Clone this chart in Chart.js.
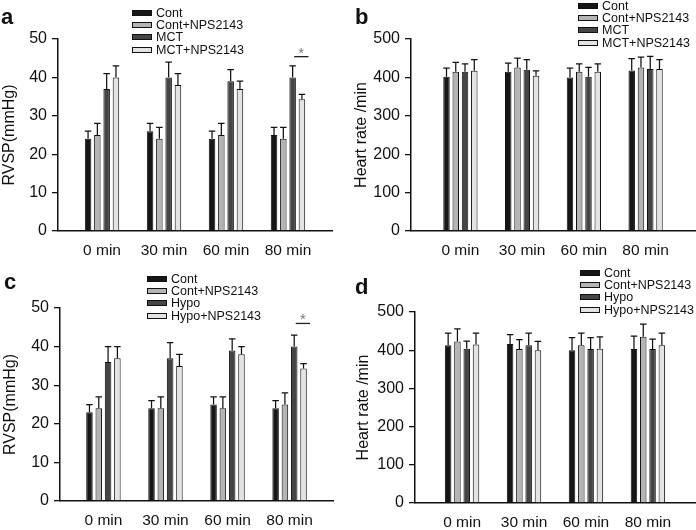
<!DOCTYPE html>
<html>
<head>
<meta charset="utf-8">
<script src="https://cdn.jsdelivr.net/npm/chart.js@4.4.1/dist/chart.umd.min.js"></script>
<style>
  body { margin: 0; background: #fff; font-family: "Liberation Sans", Arial, sans-serif; }
  #wrap { position: relative; width: 696px; height: 530px; }
  .panel { position: absolute; width: 348px; height: 265px; }
  .letter { position: absolute; font-weight: bold; font-size: 22px; line-height: 22px; color: #111; }
  .legend { position: absolute; font-size: 12.5px; color: #111; }
  .legend .row { display: flex; align-items: center; height: 12.2px; white-space: nowrap; }
  .legend .box { width: 18px; height: 4px; border: 1px solid #111; margin-right: 4px; }
</style>
</head>
<body>
<div id="wrap">
  <div class="panel" style="left:0;top:0"><canvas id="chartA" width="348" height="265"></canvas></div>
  <div class="panel" style="left:348px;top:0"><canvas id="chartB" width="348" height="265"></canvas></div>
  <div class="panel" style="left:0;top:265px"><canvas id="chartC" width="348" height="265"></canvas></div>
  <div class="panel" style="left:348px;top:265px"><canvas id="chartD" width="348" height="265"></canvas></div>
  <div class="letter" style="left:1px;top:6px">a</div>
  <div class="letter" style="left:355px;top:6px">b</div>
  <div class="letter" style="left:4px;top:271px">c</div>
  <div class="letter" style="left:355px;top:276px">d</div>
  <div class="legend" id="legA" style="left:132px;top:7px"></div>
  <div class="legend" id="legB" style="left:578px;top:0px"></div>
  <div class="legend" id="legC" style="left:147px;top:273px"></div>
  <div class="legend" id="legD" style="left:580px;top:267px"></div>
</div>
<script>
// data
const timeLabels = ['0 min', '30 min', '60 min', '80 min'];
const mctNames = ['Cont', 'Cont+NPS2143', 'MCT', 'MCT+NPS2143'];
const hypoNames = ['Cont', 'Cont+NPS2143', 'Hypo', 'Hypo+NPS2143'];
const barColors = ['#161616', '#b4b4b4', '#454545', '#e3e3e3'];

// a: RVSP, MCT groups (one row per series)
const rvspMct = [[24, 26, 24, 25], [25, 24, 25, 24], [37, 40, 39, 40], [40, 38, 37, 34.3]];
const rvspMctErr = [[2, 2, 2, 2], [3, 3, 3, 3], [4, 4, 3, 3], [3, 3, 2, 1.3]];
// b: heart rate, MCT groups
const hrMct = [[402, 415, 400, 418], [415, 426, 415, 426], [415, 420, 402, 422], [417, 404, 415, 422]];
const hrMctErr = [[22, 22, 24, 31], [24, 24, 20, 27], [20, 26, 24, 33], [29, 13, 20, 24]];
// c: RVSP, hypoxia groups
const rvspHypo = [[23, 24, 25, 24], [24, 24, 24, 25], [36, 37, 39, 40], [37, 35, 38, 34.3]];
const rvspHypoErr = [[2, 2, 2, 2], [3, 3, 3, 3], [4, 4, 3, 3], [3, 3, 2, 1.3]];
// d: heart rate, hypoxia groups
const hrHypo = [[413, 416, 400, 403], [423, 403, 413, 435], [404, 413, 403, 403], [415, 400, 404, 413]];
const hrHypoErr = [[32, 25, 33, 34], [33, 25, 32, 33], [20, 32, 30, 26], [30, 23, 31, 32]];

// significance bar between series 3 and 4 at 80 min
const starGroup = 3;
const starLevelA = 45.4;
const starLevelC = 46;

const errorBars = {
    id: 'errorBars',
    afterDatasetsDraw(chart) {
        const ctx = chart.ctx;
        const y = chart.scales.y;
        ctx.save();
        ctx.strokeStyle = '#111';
        ctx.lineWidth = 1.25;
        chart.data.datasets.forEach((ds, i) => {
            chart.getDatasetMeta(i).data.forEach((bar, j) => {
                const top = y.getPixelForValue(ds.data[j].y + ds.sem[j]);
                const half = bar.width / 2;
                ctx.beginPath();
                ctx.moveTo(bar.x, bar.y);
                ctx.lineTo(bar.x, top);
                ctx.moveTo(bar.x - half, top);
                ctx.lineTo(bar.x + half, top);
                ctx.stroke();
            });
        });
        ctx.restore();
    }
};

const sigMark = {
    id: 'sigMark',
    afterDatasetsDraw(chart, args, opts) {
        if (opts.level == null) return;
        const ctx = chart.ctx;
        const b2 = chart.getDatasetMeta(2).data[starGroup];
        const b3 = chart.getDatasetMeta(3).data[starGroup];
        const ly = chart.scales.y.getPixelForValue(opts.level);
        const x1 = b2.x + 1.5, x2 = b3.x + b3.width;
        ctx.save();
        ctx.strokeStyle = '#222';
        ctx.lineWidth = 1.3;
        ctx.beginPath();
        ctx.moveTo(x1, ly);
        ctx.lineTo(x2, ly);
        ctx.stroke();
        ctx.fillStyle = '#777';
        ctx.font = '15px "Liberation Sans", Arial, sans-serif';
        ctx.textAlign = 'center';
        ctx.textBaseline = 'alphabetic';
        ctx.fillText('*', (x1 + x2) / 2, ly + 1);
        ctx.restore();
    }
};

function buildLegend(id, names) {
    const el = document.getElementById(id);
    names.forEach((n, i) => {
        const row = document.createElement('div');
        row.className = 'row';
        const box = document.createElement('span');
        box.className = 'box';
        box.style.background = barColors[i];
        row.appendChild(box);
        row.appendChild(document.createTextNode(n));
        el.appendChild(row);
    });
}

function makePanel(id, names, means, sems, yMax, yStep, yTitle, box, sigLevel) {
    const datasets = names.map((n, i) => ({
        label: n,
        data: means[i].map((v, j) => ({ x: j, y: v })),
        sem: sems[i],
        backgroundColor: barColors[i],
        borderColor: '#111',
        borderWidth: 1,
        categoryPercentage: 0.6,
        barPercentage: 0.7
    }));

    new Chart(document.getElementById(id), {
        type: 'bar',
        data: { datasets: datasets },
        options: {
            responsive: false,
            animation: false,
            layout: { padding: { top: box.top, right: 348 - box.right, left: 0, bottom: 0 } },
            plugins: {
                legend: { display: false },
                tooltip: { enabled: false },
                sigMark: { level: sigLevel }
            },
            scales: {
                x: {
                    type: 'linear',
                    offset: false,
                    min: -box.pad,
                    max: 3 + box.pad,
                    afterBuildTicks: s => { s.ticks = timeLabels.map((_, i) => ({ value: i })); },
                    afterFit: s => { s.height = 265 - box.bottom; },
                    grid: { display: false, offset: false },
                    border: { color: '#111', width: 1.5 },
                    ticks: {
                        callback: v => timeLabels[v],
                        font: { family: '"Liberation Sans", Arial, sans-serif', size: 15.5 },
                        color: '#111',
                        padding: 2,
                        maxRotation: 0,
                        autoSkip: false
                    }
                },
                y: {
                    min: 0,
                    max: yMax,
                    afterFit: s => { s.width = box.left; },
                    ticks: {
                        stepSize: yStep,
                        font: { family: '"Liberation Sans", Arial, sans-serif', size: 16 },
                        color: '#111',
                        padding: 5
                    },
                    grid: { display: true, drawOnChartArea: false, tickLength: 6, color: '#111', lineWidth: 1.3 },
                    border: { color: '#111', width: 1.5 },
                    title: {
                        display: true,
                        text: yTitle,
                        font: { family: '"Liberation Sans", Arial, sans-serif', size: 16 },
                        color: '#111',
                        padding: { top: box.tp, bottom: 0 }
                    }
                }
            }
        },
        plugins: [errorBars, sigMark]
    });
}

makePanel('chartA', mctNames, rvspMct, rvspMctErr, 50, 10, 'RVSP(mmHg)',
    { left: 58, right: 332, top: 39, bottom: 231, pad: 0.71, tp: 0 }, starLevelA);
makePanel('chartB', mctNames, hrMct, hrMctErr, 500, 100, 'Heart rate /min',
    { left: 63, right: 347, top: 39, bottom: 231, pad: 0.8, tp: 4 }, null);
makePanel('chartC', hypoNames, rvspHypo, rvspHypoErr, 50, 10, 'RVSP(mmHg)',
    { left: 60, right: 333, top: 43, bottom: 236, pad: 0.7, tp: 1 }, starLevelC);
makePanel('chartD', hypoNames, hrHypo, hrHypoErr, 500, 100, 'Heart rate /min',
    { left: 67, right: 347, top: 47, bottom: 238, pad: 0.76, tp: 6 }, null);

buildLegend('legA', mctNames);
buildLegend('legB', mctNames);
buildLegend('legC', hypoNames);
buildLegend('legD', hypoNames);
</script>
</body>
</html>
